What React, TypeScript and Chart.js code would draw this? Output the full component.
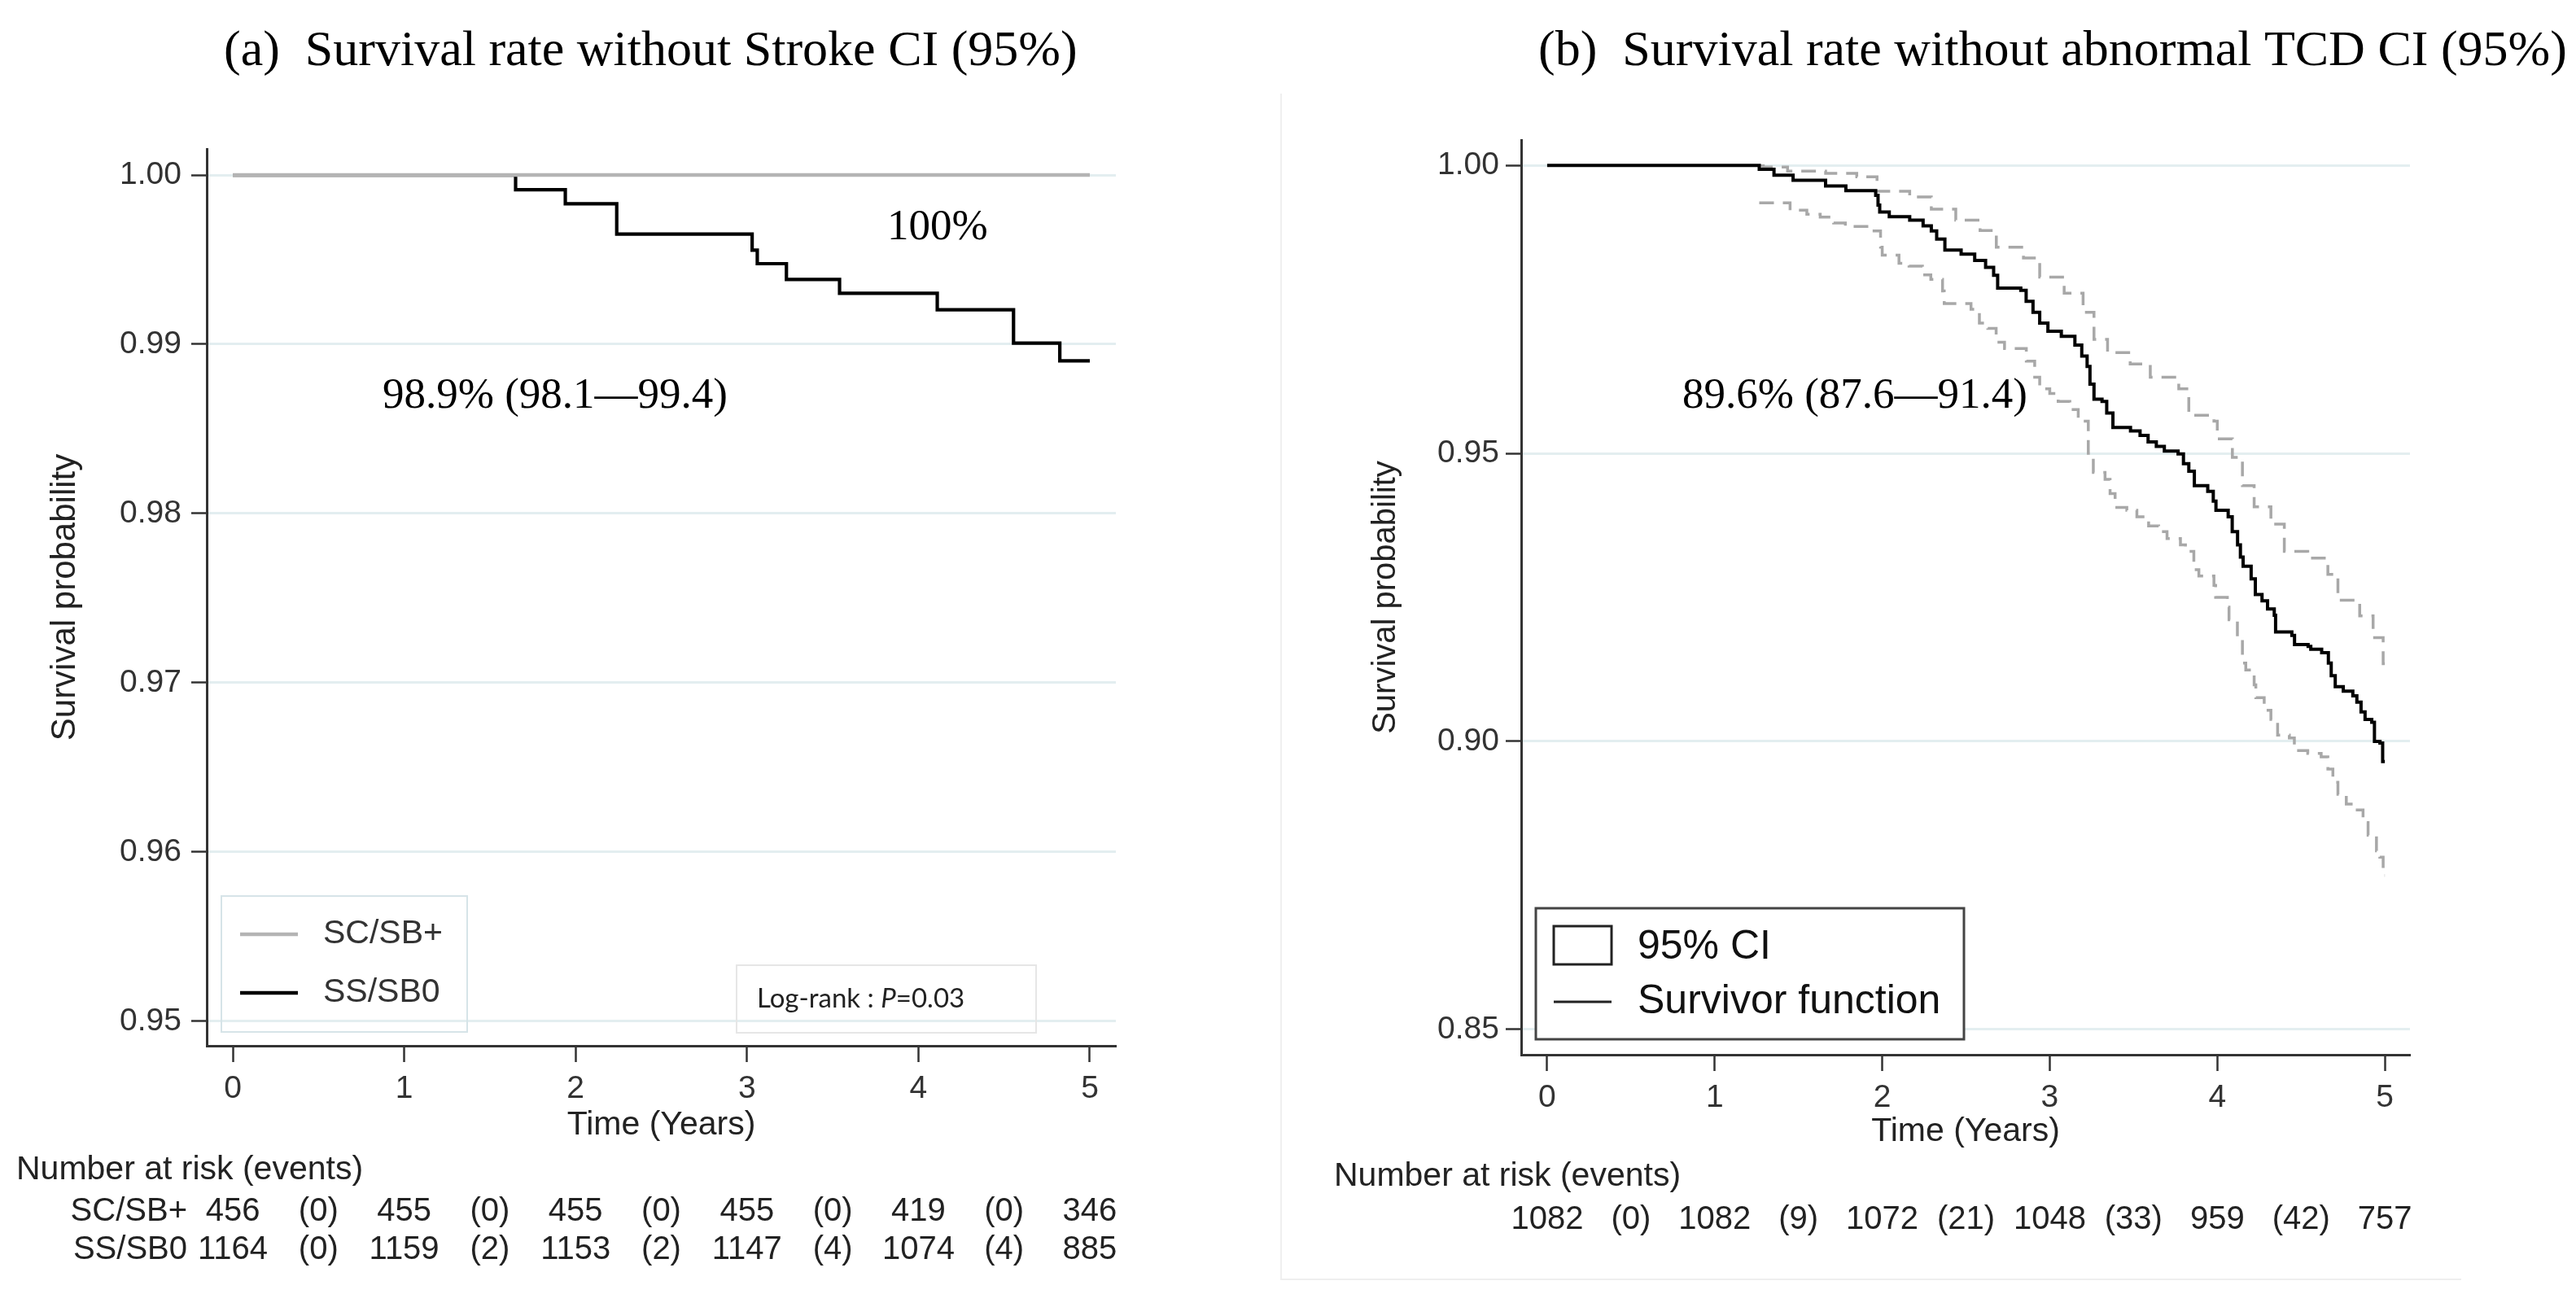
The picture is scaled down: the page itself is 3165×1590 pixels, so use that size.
import React, { useEffect, useRef } from 'react';
import { Chart, registerables } from 'chart.js';

Chart.register(...registerables);

// ---------------- data ----------------
const xTicks = [0, 1, 2, 3, 4, 5];
const yTicksA = [0.95, 0.96, 0.97, 0.98, 0.99, 1.0];
const yTicksB = [0.85, 0.9, 0.95, 1.0];

const groupNames = ['SC/SB+', 'SS/SB0'];

// (a) Kaplan-Meier, stroke
const scTimes = [0, 5];
const scValues = [1, 1];
const ssTimes = [0, 1.65, 1.94, 2.24, 3.03, 3.06, 3.23, 3.54, 4.11, 4.555, 4.825, 5.0];
const ssValues = [1, 0.99913, 0.9983, 0.99651, 0.99556, 0.99476, 0.99383, 0.99301, 0.99204, 0.99007, 0.98902, 0.98902];

// (b) Kaplan-Meier, abnormal TCD
const survTimes = [0, 1.266, 1.354, 1.468, 1.662, 1.783, 1.961, 1.975, 1.985, 2.042, 2.164, 2.244, 2.293, 2.325, 2.374, 2.471, 2.552, 2.617, 2.665, 2.689, 2.827, 2.859, 2.9, 2.94, 2.989, 3.069, 3.15, 3.191, 3.223, 3.24, 3.264, 3.312, 3.34, 3.377, 3.482, 3.539, 3.587, 3.636, 3.684, 3.766, 3.798, 3.83, 3.863, 3.943, 3.976, 3.992, 4.065, 4.089, 4.121, 4.138, 4.154, 4.202, 4.227, 4.267, 4.3, 4.34, 4.348, 4.445, 4.461, 4.542, 4.558, 4.623, 4.663, 4.68, 4.704, 4.752, 4.809, 4.833, 4.858, 4.882, 4.922, 4.938, 4.971, 4.987, 5.0];
const survValues = [1, 0.9993, 0.9983, 0.9974, 0.9964, 0.9956, 0.9948, 0.9931, 0.9919, 0.9911, 0.9905, 0.9895, 0.9886, 0.9872, 0.9853, 0.9846, 0.9835, 0.9823, 0.9809, 0.9787, 0.9783, 0.9764, 0.9745, 0.9726, 0.9712, 0.9703, 0.9688, 0.9669, 0.9651, 0.962, 0.9594, 0.959, 0.957, 0.9545, 0.9539, 0.9531, 0.952, 0.9512, 0.9504, 0.9499, 0.9482, 0.9469, 0.9444, 0.9434, 0.9417, 0.9401, 0.939, 0.9364, 0.9341, 0.932, 0.9304, 0.9282, 0.9255, 0.9244, 0.923, 0.9219, 0.919, 0.9184, 0.9168, 0.9165, 0.916, 0.9154, 0.9136, 0.9114, 0.9095, 0.9087, 0.9079, 0.9068, 0.9051, 0.9038, 0.9033, 0.9, 0.8997, 0.8965, 0.8965];

const upperTimes = [1.266, 1.29, 1.435, 1.662, 1.848, 1.969, 2.164, 2.293, 2.439, 2.584, 2.681, 2.843, 2.94, 3.086, 3.199, 3.264, 3.345, 3.48, 3.6, 3.77, 3.83, 3.98, 4.0, 4.09, 4.15, 4.22, 4.32, 4.4, 4.54, 4.66, 4.72, 4.85, 4.93, 4.99, 5.0];
const upperValues = [0.9999, 0.9997, 0.999, 0.9986, 0.998, 0.9955, 0.9945, 0.9924, 0.9905, 0.9887, 0.9858, 0.9839, 0.9806, 0.9778, 0.9745, 0.9698, 0.9675, 0.9655, 0.9632, 0.9612, 0.9566, 0.9556, 0.9525, 0.9493, 0.9444, 0.9407, 0.9377, 0.933, 0.9318, 0.929, 0.9245, 0.9218, 0.918, 0.9135, 0.9135];

const lowerTimes = [1.266, 1.45, 1.55, 1.63, 1.71, 1.78, 1.94, 1.99, 2.0, 2.1, 2.16, 2.24, 2.29, 2.36, 2.37, 2.53, 2.58, 2.63, 2.68, 2.73, 2.86, 2.91, 2.94, 3.0, 3.05, 3.12, 3.17, 3.23, 3.26, 3.33, 3.36, 3.39, 3.46, 3.52, 3.59, 3.65, 3.7, 3.78, 3.81, 3.86, 3.89, 3.98, 3.99, 4.06, 4.07, 4.12, 4.15, 4.17, 4.22, 4.23, 4.28, 4.32, 4.36, 4.43, 4.46, 4.54, 4.62, 4.66, 4.69, 4.72, 4.77, 4.82, 4.87, 4.9, 4.95, 4.97, 4.99, 5.0];
const lowerValues = [0.9935, 0.9922, 0.9915, 0.991, 0.99, 0.9894, 0.9886, 0.9858, 0.9844, 0.983, 0.9825, 0.981, 0.9802, 0.9782, 0.976, 0.975, 0.9726, 0.9717, 0.9693, 0.9682, 0.966, 0.9632, 0.9612, 0.9604, 0.959, 0.9576, 0.9556, 0.95, 0.9467, 0.9455, 0.943, 0.9406, 0.9401, 0.939, 0.9374, 0.9364, 0.9352, 0.9341, 0.933, 0.9298, 0.9287, 0.9271, 0.925, 0.9233, 0.9211, 0.9179, 0.9136, 0.9124, 0.9098, 0.9076, 0.9054, 0.9038, 0.9011, 0.9006, 0.8984, 0.8979, 0.8973, 0.8952, 0.8929, 0.8908, 0.8891, 0.8881, 0.8859, 0.8837, 0.881, 0.8799, 0.8767, 0.8767];

// number at risk tables
const riskTimes = [0, 1, 2, 3, 4, 5];
const eventTimes = [0.5, 1.5, 2.5, 3.5, 4.5];
const riskA_SC = [456, 455, 455, 455, 419, 346];
const eventsA_SC = [0, 0, 0, 0, 0];
const riskA_SS = [1164, 1159, 1153, 1147, 1074, 885];
const eventsA_SS = [0, 2, 2, 4, 4];
const riskB = [1082, 1082, 1072, 1048, 959, 757];
const eventsB = [0, 9, 21, 33, 42];

// texts
const titleA = '(a)  Survival rate without Stroke CI (95%)';
const titleB = '(b)  Survival rate without abnormal TCD CI (95%)';
const annoA_SS = '98.9% (98.1\u201499.4)';
const annoA_SC = '100%';
const annoB = '89.6% (87.6\u201491.4)';
const legendB = ['95% CI', 'Survivor function'];
const logRankLabel = 'Log-rank : ';
const logRankP = 'P';
const logRankValue = '=0.03';
const riskHeader = 'Number at risk (events)';

// ---------------- layout ----------------
const W = 3165;
const H = 1590;
const SPLIT = 1573;
const SANS = '"Liberation Sans", Arial, sans-serif';
const SERIF = '"Liberation Serif", "Times New Roman", serif';
const AXIS = '#333333';
const GRID = '#e3eef0';

const pts = (ts: number[], vs: number[]) => ts.map((t, i) => ({ x: t, y: vs[i] }));

function axisCommon(xMin: number, xMax: number, yMin: number, yMax: number, yTicks: number[], xHeight: number, yWidth: number, xTitlePad: number, yTitlePad: number, yTitleSize: number, xLabelPad: number, yLabelPad: number) {
  return {
    x: {
      type: 'linear',
      min: xMin,
      max: xMax,
      afterBuildTicks: (s: any) => { s.ticks = xTicks.map((v) => ({ value: v })); },
      afterFit: (s: any) => { s.height = xHeight; },
      grid: { drawOnChartArea: false, drawTicks: true, tickLength: 20, tickWidth: 2.5, tickColor: AXIS },
      border: { display: true, color: AXIS, width: 3 },
      ticks: { font: { family: SANS, size: 39 }, color: AXIS, padding: xLabelPad, maxRotation: 0, autoSkip: false, callback: (v: any) => String(v) },
      title: { display: true, text: 'Time (Years)', font: { family: SANS, size: 41 }, color: '#222', padding: { top: 0, bottom: xTitlePad } },
    },
    y: {
      type: 'linear',
      min: yMin,
      max: yMax,
      afterBuildTicks: (s: any) => { s.ticks = yTicks.map((v) => ({ value: v })); },
      afterFit: (s: any) => { s.width = yWidth; },
      grid: { color: GRID, lineWidth: 3, drawTicks: true, tickLength: 19, tickWidth: 2.5, tickColor: AXIS },
      border: { display: true, color: AXIS, width: 3 },
      ticks: { font: { family: SANS, size: 39 }, color: AXIS, padding: yLabelPad, autoSkip: false, callback: (v: any) => Number(v).toFixed(2) },
      title: { display: true, text: 'Survival probability', font: { family: SANS, size: yTitleSize }, color: '#222', padding: { top: yTitlePad, bottom: 0 } },
    },
  };
}

function drawRow(ctx: CanvasRenderingContext2D, xs: any, y: number, risk: number[], events: number[]) {
  ctx.textAlign = 'center';
  riskTimes.forEach((t, i) => ctx.fillText(String(risk[i]), xs.getPixelForValue(t), y));
  eventTimes.forEach((t, i) => ctx.fillText('(' + events[i] + ')', xs.getPixelForValue(t), y));
}

const panelAPlugin = {
  id: 'panelA',
  afterDraw(chart: any) {
    const { ctx, chartArea: ca, scales } = chart;
    const xs = scales.x;
    ctx.save();
    // title
    ctx.fillStyle = '#000';
    ctx.textAlign = 'left';
    ctx.textBaseline = 'alphabetic';
    ctx.font = `62px ${SERIF}`;
    ctx.fillText(titleA, 275, 80);
    // annotations
    ctx.textBaseline = 'middle';
    ctx.font = `53px ${SERIF}`;
    ctx.fillText(annoA_SS, ca.left + 216, ca.top + 304);
    ctx.fillText(annoA_SC, ca.left + 836, ca.top + 97);
    // legend
    ctx.strokeStyle = '#d6e4e8';
    ctx.lineWidth = 2;
    ctx.strokeRect(ca.left + 18, ca.bottom - 184, 302, 167);
    const items = [{ c: '#b4b4b4', y: ca.bottom - 137 }, { c: '#000', y: ca.bottom - 65 }];
    ctx.font = `41px ${SANS}`;
    items.forEach((it, i) => {
      ctx.strokeStyle = it.c;
      ctx.lineWidth = 4.5;
      ctx.beginPath();
      ctx.moveTo(ca.left + 41, it.y);
      ctx.lineTo(ca.left + 112, it.y);
      ctx.stroke();
      ctx.fillStyle = '#333';
      ctx.textAlign = 'left';
      ctx.fillText(groupNames[i], ca.left + 143, it.y);
    });
    // log-rank box
    ctx.strokeStyle = '#e6e6e6';
    ctx.lineWidth = 2;
    ctx.strokeRect(ca.left + 651, ca.bottom - 99, 368, 83);
    ctx.fillStyle = '#222';
    let tx = ca.left + 676;
    const ty = ca.bottom - 58;
    ctx.font = `33px Lato, ${SANS}`;
    ctx.fillText(logRankLabel, tx, ty);
    tx += ctx.measureText(logRankLabel).width;
    ctx.font = `italic 33px Lato, ${SANS}`;
    ctx.fillText(logRankP, tx, ty);
    tx += ctx.measureText(logRankP).width;
    ctx.font = `33px Lato, ${SANS}`;
    ctx.fillText(logRankValue, tx, ty);
    // number at risk
    ctx.fillStyle = '#222';
    ctx.font = `41px ${SANS}`;
    ctx.textAlign = 'left';
    ctx.fillText(riskHeader, ca.left - 234, ca.bottom + 153);
    ctx.font = `40px ${SANS}`;
    ctx.textAlign = 'right';
    ctx.fillText(groupNames[0], ca.left - 24, ca.bottom + 204);
    ctx.fillText(groupNames[1], ca.left - 24, ca.bottom + 251);
    drawRow(ctx, xs, ca.bottom + 204, riskA_SC, eventsA_SC);
    drawRow(ctx, xs, ca.bottom + 251, riskA_SS, eventsA_SS);
    ctx.restore();
  },
};

const panelBPlugin = {
  id: 'panelB',
  beforeDraw(chart: any) {
    const { ctx } = chart;
    ctx.save();
    ctx.strokeStyle = '#efefef';
    ctx.lineWidth = 2;
    ctx.beginPath();
    ctx.moveTo(1, 115);
    ctx.lineTo(1, 1572);
    ctx.lineTo(1451, 1572);
    ctx.stroke();
    ctx.restore();
  },
  afterDraw(chart: any) {
    const { ctx, chartArea: ca, scales } = chart;
    const xs = scales.x;
    ctx.save();
    ctx.fillStyle = '#000';
    ctx.textAlign = 'left';
    ctx.textBaseline = 'alphabetic';
    ctx.font = `62px ${SERIF}`;
    ctx.fillText(titleB, 317, 80);
    ctx.textBaseline = 'middle';
    ctx.font = `53px ${SERIF}`;
    ctx.fillText(annoB, ca.left + 198, ca.top + 315);
    // legend
    ctx.fillStyle = '#fff';
    ctx.fillRect(ca.left + 18, ca.bottom - 180, 526, 161);
    ctx.strokeStyle = '#444';
    ctx.lineWidth = 3;
    ctx.strokeRect(ca.left + 18, ca.bottom - 180, 526, 161);
    ctx.strokeStyle = '#222';
    ctx.strokeRect(ca.left + 40, ca.bottom - 158, 71, 47);
    ctx.beginPath();
    ctx.moveTo(ca.left + 40, ca.bottom - 65);
    ctx.lineTo(ca.left + 111, ca.bottom - 65);
    ctx.stroke();
    ctx.fillStyle = '#111';
    ctx.font = `50px ${SANS}`;
    ctx.fillText(legendB[0], ca.left + 143, ca.bottom - 132);
    ctx.fillText(legendB[1], ca.left + 143, ca.bottom - 65);
    // number at risk
    ctx.fillStyle = '#222';
    ctx.font = `41px ${SANS}`;
    ctx.fillText(riskHeader, ca.left - 230, ca.bottom + 150);
    ctx.font = `40px ${SANS}`;
    drawRow(ctx, xs, ca.bottom + 203, riskB, eventsB);
    ctx.restore();
  },
};

function configA(): any {
  return {
    type: 'line',
    data: {
      datasets: [
        { label: groupNames[0], data: pts(scTimes, scValues), borderColor: '#b4b4b4', borderWidth: 4.5, pointRadius: 0, stepped: 'before', fill: false },
        { label: groupNames[1], data: pts(ssTimes, ssValues), borderColor: '#000', borderWidth: 4.2, pointRadius: 0, stepped: 'before', fill: false },
      ],
    },
    options: {
      animation: false,
      responsive: false,
      devicePixelRatio: 1,
      events: [],
      layout: { padding: { left: 0, top: 183, right: SPLIT - 1371, bottom: 0 } },
      plugins: { legend: { display: false }, tooltip: { enabled: false }, title: { display: false } },
      scales: axisCommon(-0.152, 5.152, 0.94855, 1.00154, yTicksA, 305, 254, 183, 55, 42, 10, 12),
    },
    plugins: [panelAPlugin],
  };
}

function configB(): any {
  return {
    type: 'line',
    data: {
      datasets: [
        { label: 'Survivor function', data: pts(survTimes, survValues), borderColor: '#000', borderWidth: 4, pointRadius: 0, stepped: 'before', fill: false },
        { label: 'Upper CI', data: pts(upperTimes, upperValues), borderColor: '#a8a8a8', borderWidth: 3.5, borderDash: [18, 11], pointRadius: 0, stepped: 'before', fill: false },
        { label: 'Lower CI', data: pts(lowerTimes, lowerValues), borderColor: '#a8a8a8', borderWidth: 3.5, borderDash: [18, 11], pointRadius: 0, stepped: 'before', fill: false },
      ],
    },
    options: {
      animation: false,
      responsive: false,
      devicePixelRatio: 1,
      events: [],
      layout: { padding: { left: 0, top: 172, right: (W - SPLIT) - (2961 - SPLIT), bottom: 0 } },
      plugins: { legend: { display: false }, tooltip: { enabled: false }, title: { display: false } },
      scales: axisCommon(-0.155, 5.15, 0.8456, 1.0044, yTicksB, 294, 1869 - SPLIT, 175, 106, 40, 10, 8),
    },
    plugins: [panelBPlugin],
  };
}

function ChartCanvas({ makeConfig, left, width }: { makeConfig: () => any; left: number; width: number }) {
  const ref = useRef<HTMLCanvasElement>(null);
  useEffect(() => {
    const chart = new Chart(ref.current as HTMLCanvasElement, makeConfig());
    return () => chart.destroy();
  }, []);
  return (
    <canvas
      ref={ref}
      width={width}
      height={H}
      style={{ position: 'absolute', left, top: 0, width, height: H, display: 'block' }}
    />
  );
}

export default function App() {
  return (
    <div style={{ position: 'absolute', left: 0, top: 0, width: W, height: H, background: '#fff', overflow: 'hidden' }}>
      <ChartCanvas makeConfig={configA} left={0} width={SPLIT} />
      <ChartCanvas makeConfig={configB} left={SPLIT} width={W - SPLIT} />
    </div>
  );
}
